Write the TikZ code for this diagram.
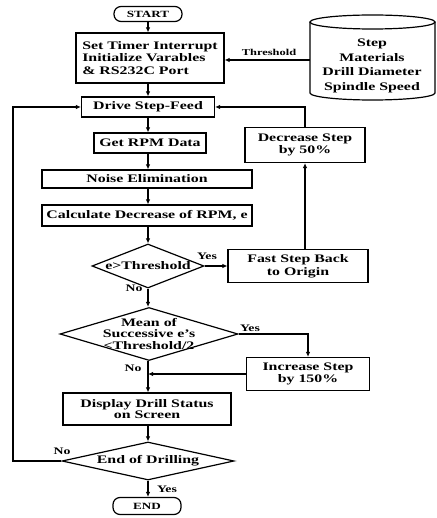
\documentclass[tikz,border=0pt]{standalone}
\usepackage{fontspec}
\setmainfont{Liberation Serif}[FakeStretch=1.38]
\usetikzlibrary{shapes.geometric,arrows.meta}

\tikzset{
  box/.style={draw, line width=1.2pt, inner sep=0pt, align=center,
    font=\bfseries\fontsize{11.5}{12}\selectfont},
  term/.style={box, rounded corners=7pt, font=\bfseries\fontsize{9.5}{11}\selectfont},
  decision/.style={draw, diamond, line width=1.2pt, inner sep=0pt},
  dtext/.style={align=center, inner sep=0pt, font=\bfseries\fontsize{11.5}{11.5}\selectfont},
  arr/.style={-{Latex[length=5pt,width=4.5pt]}, line width=1.1pt},
  yesno/.style={inner sep=0pt, font=\bfseries\fontsize{10}{12}\selectfont}
}

\begin{document}
\begin{tikzpicture}[x=1pt, y=-1pt]
  \useasboundingbox (0,0) rectangle (436,518);
  \node[term, minimum width=68pt, minimum height=15pt] (start) at (148,14) {START};
  \node[box, align=left, minimum width=148pt, minimum height=50pt,
    font=\bfseries\fontsize{11.5}{12.5}\selectfont] (init) at (150,58)
    {Set Timer Interrupt\\Initialize Varables\\\& RS232C Port};
  \node[box, minimum width=133pt, minimum height=20pt] (drive) at (148,107) {Drive Step-Feed};
  \node[box, minimum width=112pt, minimum height=20pt] (rpm) at (150,143) {Get RPM Data};
  \node[box, minimum width=210pt, minimum height=18pt] (noise) at (147,179) {Noise Elimination};
  \node[box, minimum width=210pt, minimum height=21pt] (calc) at (147,215.5) {Calculate Decrease of RPM, e};
  \node[decision, minimum width=112pt, minimum height=44pt] (thr) at (148,266) {};
  \node[dtext] (thrtext) at (thr) {e>Threshold};
  \node[box, minimum width=140pt, minimum height=33pt,
    font=\bfseries\fontsize{11.5}{13}\selectfont] (fast) at (298,266) {Fast Step Back\\to Origin};
  \node[box, minimum width=120pt, minimum height=35pt,
    font=\bfseries\fontsize{11.5}{11.5}\selectfont] (dec) at (305,145) {Decrease Step\\by 50\%};
  \node[decision, minimum width=178pt, minimum height=53pt] (mean) at (149,334) {};
  \node[dtext] (meantext) at (mean) {Mean of\\Successive e's\\<Threshold/2};
  \node[box, minimum width=123pt, minimum height=33pt] (inc) at (308,374) {Increase Step\\by 150\%};
  \node[box, minimum width=168pt, minimum height=32pt,
    font=\bfseries\fontsize{11.5}{11}\selectfont] (disp) at (147,409) {Display Drill Status\\on Screen};
  \node[decision, minimum width=172pt, minimum height=38pt] (fin) at (148,461) {};
  \node[dtext] (fintext) at (fin) {End of Drilling};
  \node[term, minimum width=68pt, minimum height=17pt] (end) at (147,506) {END};

  \node[align=center, inner sep=0pt, font=\bfseries\fontsize{11.5}{14.5}\selectfont]
    (data) at (372,66) {Step\\Materials\\Drill Diameter\\Spindle Speed};
  \draw[line width=1.2pt] (372.5,22) ellipse[x radius=62.5pt, y radius=7pt];
  \draw[line width=1.2pt] (310,22) -- (310,93)
    arc[start angle=180, end angle=360, x radius=62.5pt, y radius=7pt] -- (435,22);
  \coordinate (cyl) at (310,60);
  \coordinate (back) at (13,461);

  \draw[arr] (cyl) -- (init.east |- cyl);
  \draw[arr] (start) -- (start |- init.north);
  \draw[arr] (drive |- init.south) -- (drive);
  \draw[arr] (drive) -- (drive |- rpm.north);
  \draw[arr] (drive |- rpm.south) -- (drive |- noise.north);
  \draw[arr] (drive |- noise.south) -- (drive |- calc.north);
  \draw[arr] (drive |- calc.south) -- (thr);
  \draw[arr] (thr.east) -- (fast.west);
  \draw[arr] (dec |- fast.north) -- (dec.south);
  \draw[arr] (dec.north) |- (drive.east);
  \draw[arr] (thr.south) -- (thr.south |- mean.north);
  \draw[arr] (mean.east) -| (inc.north);
  \draw[arr] (inc.west) -- (inc.west -| thr.south);
  \draw[arr] (thr.south |- mean.south) -- (thr.south |- disp.north);
  \draw[arr] (thr.south |- disp.south) -- (thr.south |- fin.north);
  \draw[arr] (fin.south) -- (fin.south |- end.north);
  \draw[arr] (fin.west) -- (back) |- (drive.west);

  \node[yesno, font=\bfseries\fontsize{9}{11}\selectfont] (thrlbl) at (269,52) {Threshold};
  \node[yesno] (yes1) at (207,256) {Yes};
  \node[yesno] (no1) at (134,288) {No};
  \node[yesno] (yes2) at (250,328) {Yes};
  \node[yesno] (no2) at (133,368) {No};
  \node[yesno] (no3) at (62,451) {No};
  \node[yesno] (yes3) at (167,489) {Yes};
\end{tikzpicture}
\end{document}
